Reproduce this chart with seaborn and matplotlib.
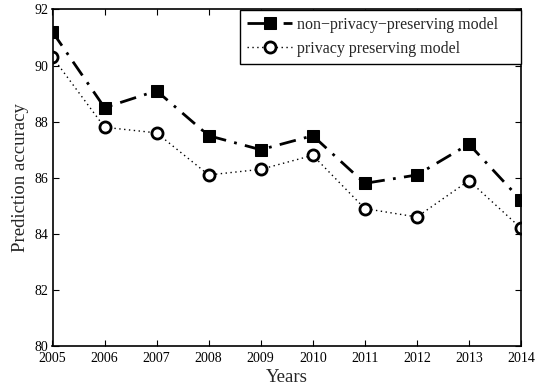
import matplotlib
matplotlib.use("Agg")
import matplotlib.pyplot as plt
import seaborn as sns
import pandas as pd

years = [2005, 2006, 2007, 2008, 2009, 2010, 2011, 2012, 2013, 2014]
non_privacy = [91.2, 88.5, 89.1, 87.5, 87.0, 87.5, 85.8, 86.1, 87.2, 85.2]
privacy = [90.3, 87.8, 87.6, 86.1, 86.3, 86.8, 84.9, 84.6, 85.9, 84.2]
labels = ["non\u2212privacy\u2212preserving model", "privacy preserving model"]

sns.set_style("ticks")
plt.rcParams['font.family'] = ['Liberation Serif', 'DejaVu Serif']
plt.rcParams['mathtext.fontset'] = 'stix'

df = pd.DataFrame({"Years": years * 2,
                   "acc": non_privacy + privacy,
                   "model": [labels[0]] * len(years) + [labels[1]] * len(years)})

W, H = 543, 388
L, R, T, B = 52.5, 521, 9.5, 346
fig = plt.figure(figsize=(W / 100, H / 100), dpi=100)
ax = fig.add_axes([L / W, (H - B) / H, (R - L) / W, (B - T) / H])

sns.lineplot(data=df[df.model == labels[0]], x="Years", y="acc", ax=ax,
             color="black", linestyle=(0, (6, 3, 1, 3)), linewidth=2,
             marker="s", markersize=8, markerfacecolor="black",
             markeredgecolor="black", label=labels[0])
sns.lineplot(data=df[df.model == labels[1]], x="Years", y="acc", ax=ax,
             color="black", linestyle=(0, (1, 2.5)), linewidth=1,
             marker="o", markersize=8, markerfacecolor="white",
             markeredgecolor="black", markeredgewidth=2, label=labels[1])

ax.set_xlim(2005, 2014)
ax.set_ylim(80, 92)
ax.set_xticks(years)
ax.set_xticklabels([str(y) for y in years])
ax.set_yticks([80, 82, 84, 86, 88, 90, 92])
ax.tick_params(direction="in", top=True, right=True, labelsize=10,
               length=4, width=0.8, colors="black")
ax.tick_params(axis="x", pad=4.5)
ax.tick_params(axis="y", pad=3)
for s in ax.spines.values():
    s.set_linewidth(1.2)
    s.set_color("black")
    s.set_visible(True)
ax.set_xlabel("Years", fontsize=13.5, labelpad=2.5)
ax.set_ylabel("Prediction accuracy", fontsize=13.5, labelpad=4)

x0 = (240 - L) / (R - L)
leg = ax.legend(loc="upper left", bbox_to_anchor=(x0, 0, 1 - x0, 1.0),
                mode="expand", borderaxespad=0, fontsize=11.5,
                frameon=True, fancybox=False, edgecolor="black",
                handlelength=2.8, handletextpad=0.3, borderpad=0.45,
                labelspacing=0.5)
leg.get_frame().set_linewidth(1.0)
leg.get_frame().set_alpha(1)

fig.savefig("out.png", dpi=100)
